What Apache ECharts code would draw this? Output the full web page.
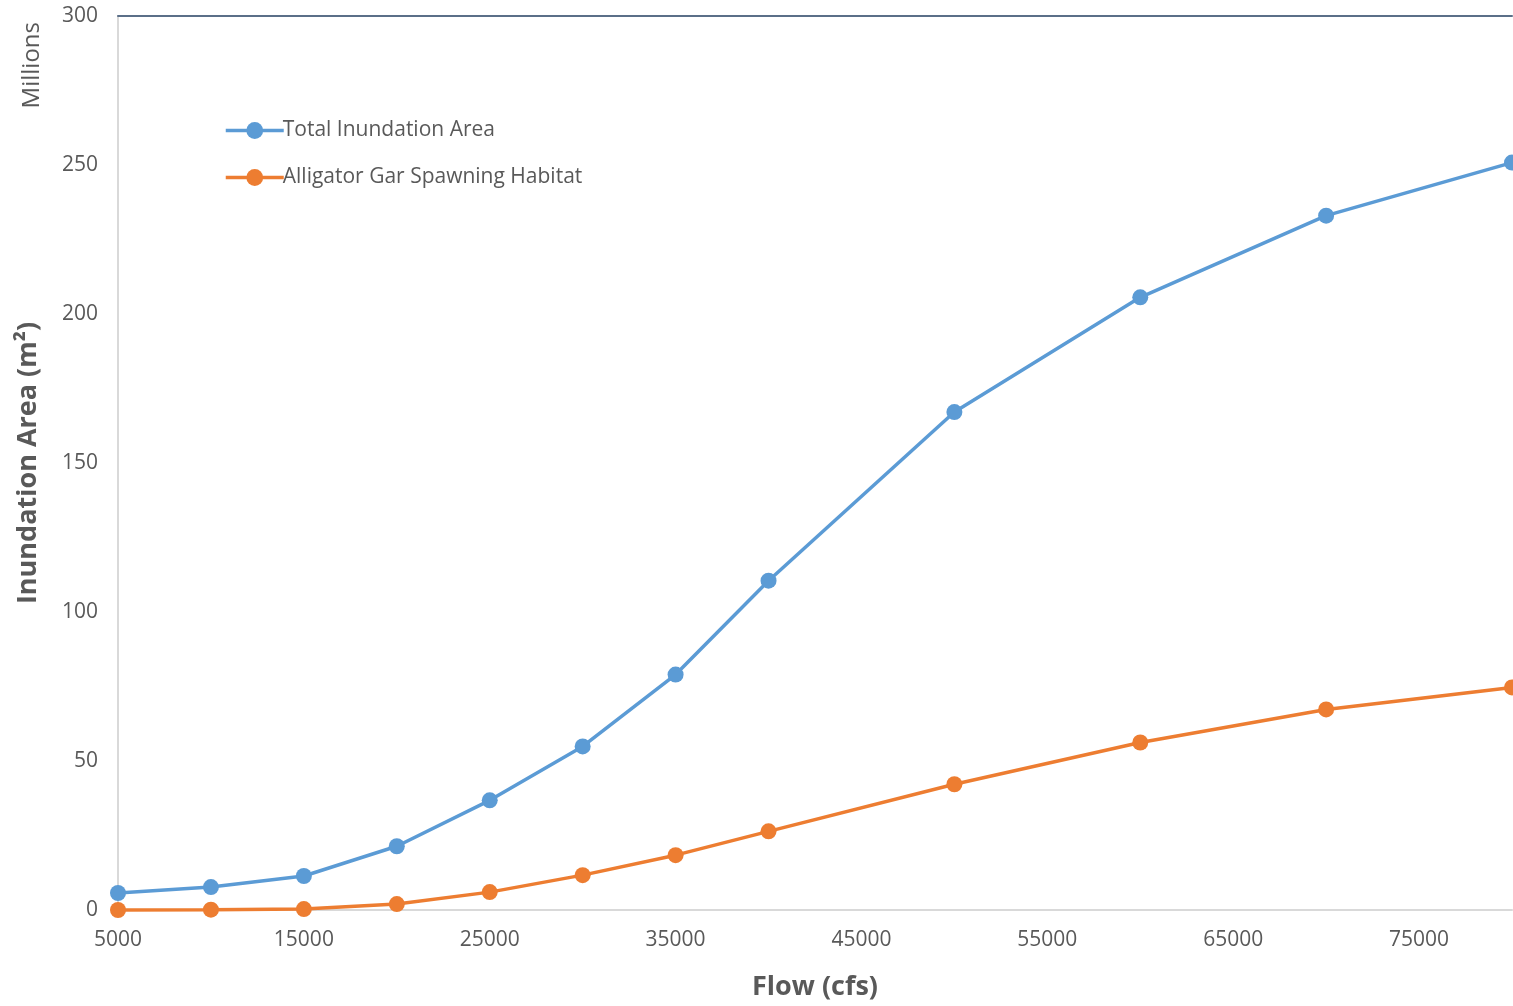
<!DOCTYPE html>
<html>
<head>
<meta charset="utf-8">
<title>Inundation Area vs Flow</title>
<script src="https://cdn.jsdelivr.net/npm/echarts@6/dist/echarts.min.js"></script>
<style>
  html, body { margin: 0; padding: 0; background: #ffffff; }
  #chart { width: 1513px; height: 1006px; }
</style>
</head>
<body>
<div id="chart"></div>
<script>
// Flow values (cfs) and inundated areas (millions of m²)
const flows = [5000, 10000, 15000, 20000, 25000, 30000, 35000, 40000, 50000, 60000, 70000, 80000];
const totalArea = [5.7, 7.7, 11.4, 21.4, 36.8, 54.9, 79.0, 110.5, 167.1, 205.6, 233.0, 250.8];
const garHabitat = [0.0, 0.1, 0.3, 2.0, 6.0, 11.7, 18.4, 26.4, 42.2, 56.2, 67.3, 74.7];
const seriesNames = ['Total Inundation Area', 'Alligator Gar Spawning Habitat'];

const FONT = '"Open Sans", "Noto Sans", sans-serif';
const GREY = '#595959';

const pairs = (xs, ys) => xs.map((x, i) => [x, ys[i]]);

const chart = echarts.init(document.getElementById('chart'), null, { renderer: 'canvas' });

chart.setOption({
  animation: false,
  backgroundColor: '#ffffff',
  textStyle: { fontFamily: FONT },
  grid: { left: 118, right: 1, top: 16, bottom: 93 },
  legend: {
    orient: 'vertical',
    left: 219,
    top: 115,
    itemWidth: 58,
    itemHeight: 21,
    itemGap: 26,
    data: seriesNames,
    lineStyle: { width: 3.5 },
    textStyle: { fontFamily: FONT, fontSize: 21, color: GREY, padding: [0, 0, 0, -6] }
  },
  xAxis: [
    {
      type: 'value',
      min: 5000,
      max: 80000,
      interval: 10000,
      name: 'Flow (cfs)',
      nameLocation: 'middle',
      nameGap: 64,
      nameTextStyle: { fontFamily: FONT, fontSize: 27, fontWeight: 'bold', color: GREY },
      axisLine: { show: true, lineStyle: { color: '#d9d9d9', width: 2 } },
      axisTick: { show: false },
      splitLine: { show: false },
      axisLabel: {
        fontFamily: FONT, fontSize: 21, color: GREY, margin: 20,
        showMaxLabel: false,
        formatter: (v) => String(v)
      }
    },
    {
      // frame line along the top of the plot
      type: 'value',
      position: 'top',
      min: 5000,
      max: 80000,
      axisLine: { show: true, lineStyle: { color: '#5b6f88', width: 2 } },
      axisTick: { show: false },
      axisLabel: { show: false },
      splitLine: { show: false }
    }
  ],
  yAxis: {
    type: 'value',
    min: 0,
    max: 300,
    interval: 50,
    name: 'Inundation Area (m²)',
    nameLocation: 'middle',
    nameGap: 76,
    nameTextStyle: { fontFamily: FONT, fontSize: 27, fontWeight: 'bold', color: GREY },
    axisLine: { show: true, lineStyle: { color: '#d9d9d9', width: 2 } },
    axisTick: { show: false },
    splitLine: { show: false },
    axisLabel: { fontFamily: FONT, fontSize: 21, color: GREY, margin: 20 }
  },
  graphic: [
    {
      type: 'text',
      left: 20,
      top: 22,
      rotation: Math.PI / 2,
      style: { text: 'Millions', fontFamily: FONT, fontSize: 24, fill: GREY }
    }
  ],
  series: [
    {
      name: seriesNames[0],
      type: 'line',
      data: pairs(flows, totalArea),
      symbol: 'circle',
      symbolSize: 16,
      clip: false,
      lineStyle: { color: '#5b9bd5', width: 3.5 },
      itemStyle: { color: '#5b9bd5' }
    },
    {
      name: seriesNames[1],
      type: 'line',
      data: pairs(flows, garHabitat),
      symbol: 'circle',
      symbolSize: 16,
      clip: false,
      lineStyle: { color: '#ed7d31', width: 3.5 },
      itemStyle: { color: '#ed7d31' }
    }
  ]
});
</script>
</body>
</html>
